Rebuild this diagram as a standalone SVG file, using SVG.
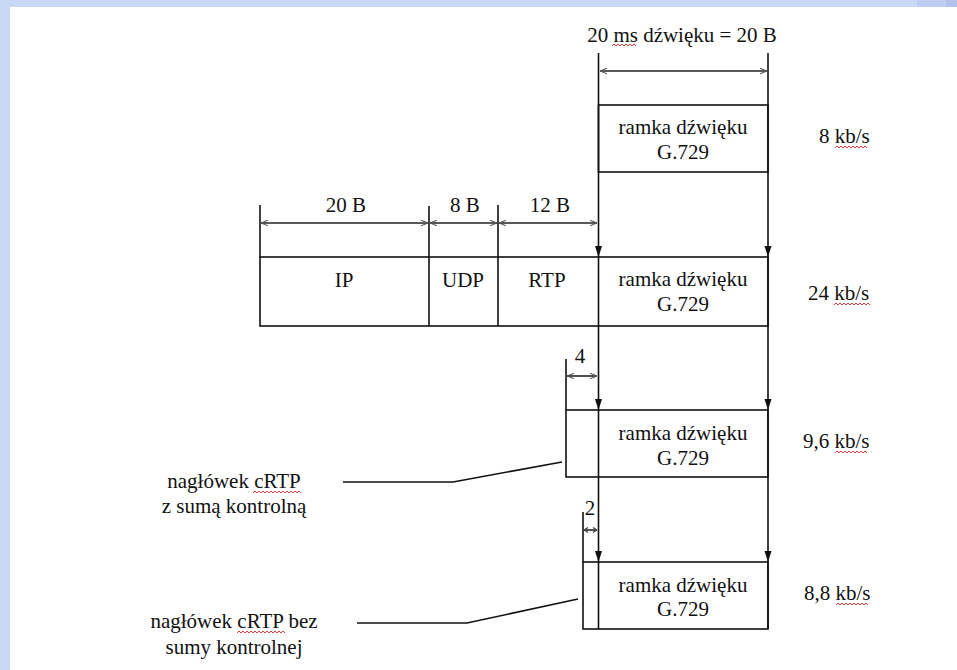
<svg xmlns="http://www.w3.org/2000/svg" width="957" height="670" viewBox="0 0 957 670">
<style>
  .t { font-size: 21px; fill: #111; }
  .c { text-anchor: middle; }
  .ln { stroke: #111; stroke-width: 1.6; fill: none; }
  .dim { stroke: #222; stroke-width: 1.6; fill: none; marker-start: url(#dh); marker-end: url(#dh); }
  .down { stroke: #111; stroke-width: 1.6; fill: none; }
  .sq { stroke: #e03a3a; stroke-width: 1; fill: none; }
</style>
<defs>
  <marker id="dh" viewBox="0 0 10 10" refX="10" refY="5" markerWidth="7" markerHeight="7" markerUnits="userSpaceOnUse" orient="auto-start-reverse">
    <path d="M0,1 L10,5 L0,9" fill="none" stroke="#555" stroke-width="1.6"/>
  </marker>
  <path id="ah" d="M-3.5,-11 L3.5,-11 L0,0 Z" fill="#111"/>
</defs>
<rect x="0" y="0" width="957" height="670" fill="#ffffff"/>
<g id="border">
  <rect x="0" y="0" width="957" height="7" fill="#c9d9f5"/>
  <rect x="917" y="0" width="29" height="7" fill="#bfcdf0"/>
  <rect x="946" y="0" width="11" height="7" fill="#b3c2ea"/>
  <rect x="0" y="0" width="10" height="670" fill="#c9d9f5"/>
</g>

<g font-family="Liberation Serif, DejaVu Serif, serif" class="t">
<g id="frame-8kbs">
  <rect x="598.5" y="105" width="169.5" height="67" class="ln"/>
  <text class="c" x="683" y="134">ramka dźwięku</text>
  <text class="c" x="683" y="159">G.729</text>
  <text x="819" y="143">8 kb/s</text>
</g>

<g id="frame-24kbs">
  <rect x="260" y="257" width="508" height="69" class="ln"/>
  <line x1="429" y1="206" x2="429" y2="326" class="ln"/>
  <line x1="498" y1="205" x2="498" y2="326" class="ln"/>
  <line x1="260" y1="205" x2="260" y2="257" class="ln"/>
  <text class="c" x="344" y="287">IP</text>
  <text class="c" x="463" y="287">UDP</text>
  <text class="c" x="547" y="287">RTP</text>
  <text class="c" x="683" y="286">ramka dźwięku</text>
  <text class="c" x="683" y="311">G.729</text>
  <text x="808" y="300">24 kb/s</text>
</g>

<g id="frame-96kbs">
  <rect x="566" y="410" width="202" height="67" class="ln"/>
  <line x1="566" y1="359" x2="566" y2="410" class="ln"/>
  <text class="c" x="683" y="440">ramka dźwięku</text>
  <text class="c" x="683" y="465">G.729</text>
  <text x="803" y="448">9,6 kb/s</text>
</g>

<g id="frame-88kbs">
  <rect x="583" y="562" width="185" height="67" class="ln"/>
  <line x1="583" y1="512" x2="583" y2="562" class="ln"/>
  <text class="c" x="683" y="592">ramka dźwięku</text>
  <text class="c" x="683" y="616">G.729</text>
  <text x="804" y="600">8,8 kb/s</text>
</g>

<g id="label-crtp-sum">
  <text class="c" x="234" y="488">nagłówek cRTP</text>
  <text class="c" x="234" y="513">z sumą kontrolną</text>
</g>

<g id="label-crtp-nosum">
  <text class="c" x="234" y="628">nagłówek cRTP bez</text>
  <text class="c" x="234" y="654">sumy kontrolnej</text>
</g>

<g id="dimensions">
  <text class="c" x="682" y="42">20 ms dźwięku = 20 B</text>
  <line x1="600" y1="71" x2="767" y2="71" class="dim"/>
  <text class="c" x="346" y="212">20 B</text>
  <text class="c" x="465" y="212">8 B</text>
  <text class="c" x="550" y="212">12 B</text>
  <line x1="261" y1="223" x2="428" y2="223" class="dim"/>
  <line x1="430" y1="223" x2="497" y2="223" class="dim"/>
  <line x1="499" y1="223" x2="597" y2="223" class="dim"/>
  <text class="c" x="580" y="363">4</text>
  <line x1="567" y1="376" x2="597" y2="376" class="dim"/>
  <text class="c" x="590" y="515">2</text>
  <line x1="584" y1="530" x2="597" y2="530" stroke="#222" stroke-width="1.6"/>
  <path d="M584,530 l4,-2.5 M584,530 l4,2.5 M597,530 l-4,-2.5 M597,530 l-4,2.5" stroke="#444" stroke-width="1.3" fill="none"/>
</g>
</g>

<g id="connectors">
  <line x1="598.5" y1="53" x2="598.5" y2="629" class="down"/>
  <line x1="768" y1="53" x2="768" y2="629" class="down"/>
  <use href="#ah" x="598.5" y="257"/>
  <use href="#ah" x="768" y="257"/>
  <use href="#ah" x="598.5" y="410"/>
  <use href="#ah" x="768" y="410"/>
  <use href="#ah" x="598.5" y="562"/>
  <use href="#ah" x="768" y="562"/>
  <polyline points="343,482 453,482 562,462" class="ln" stroke-width="1.4"/>
  <polyline points="357,623 467,623 578,599" class="ln" stroke-width="1.4"/>
</g>

<g id="spellcheck">
  <path class="sq" d="M612,46 l2,-2 l2,2 l2,-2 l2,2 l2,-2 l2,2 l2,-2 l2,2 l2,-2 l2,2 l2,-2 l2,2"/>
  <path class="sq" d="M835,148 l2,-2 l2,2 l2,-2 l2,2 l2,-2 l2,2 l2,-2 l2,2 l2,-2 l2,2 l2,-2 l2,2 l2,-2 l2,2 l2,-2 l2,2"/>
  <path class="sq" d="M834,305 l2,-2 l2,2 l2,-2 l2,2 l2,-2 l2,2 l2,-2 l2,2 l2,-2 l2,2 l2,-2 l2,2 l2,-2 l2,2 l2,-2 l2,2 l2,-2 l2,2"/>
  <path class="sq" d="M835,453 l2,-2 l2,2 l2,-2 l2,2 l2,-2 l2,2 l2,-2 l2,2 l2,-2 l2,2 l2,-2 l2,2 l2,-2 l2,2 l2,-2 l2,2"/>
  <path class="sq" d="M836,605 l2,-2 l2,2 l2,-2 l2,2 l2,-2 l2,2 l2,-2 l2,2 l2,-2 l2,2 l2,-2 l2,2 l2,-2 l2,2 l2,-2 l2,2"/>
  <path class="sq" d="M253,493 l2,-2 l2,2 l2,-2 l2,2 l2,-2 l2,2 l2,-2 l2,2 l2,-2 l2,2 l2,-2 l2,2 l2,-2 l2,2 l2,-2 l2,2 l2,-2 l2,2 l2,-2 l2,2 l2,-2 l2,2 l2,-2 l2,2"/>
  <path class="sq" d="M237,633 l2,-2 l2,2 l2,-2 l2,2 l2,-2 l2,2 l2,-2 l2,2 l2,-2 l2,2 l2,-2 l2,2 l2,-2 l2,2 l2,-2 l2,2 l2,-2 l2,2 l2,-2 l2,2 l2,-2 l2,2 l2,-2 l2,2"/>
</g>
</svg>
